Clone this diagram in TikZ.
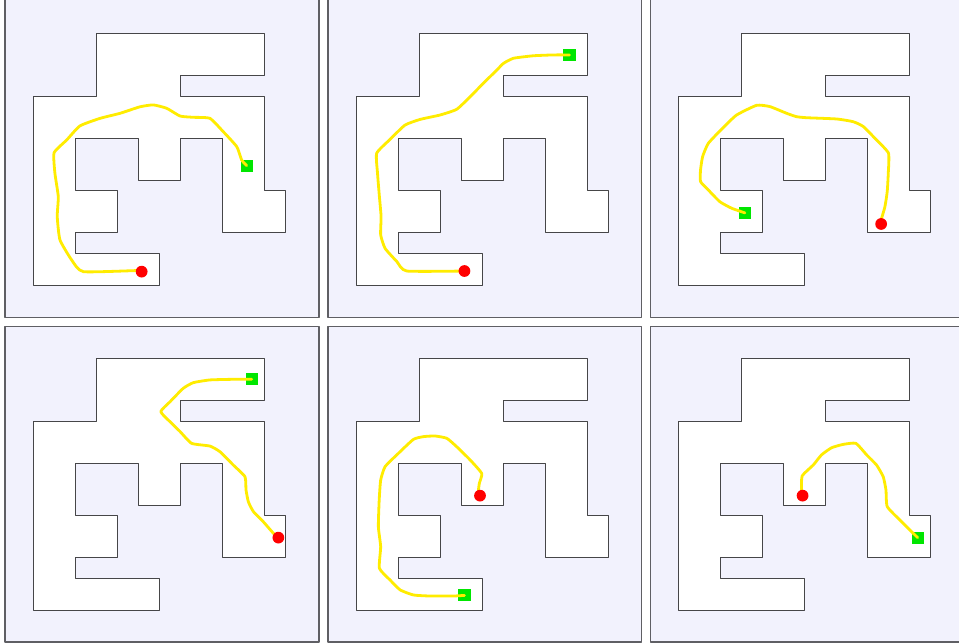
\documentclass[tikz,border=0pt]{standalone}
\definecolor{lavender}{RGB}{242,242,253}
\definecolor{framegray}{RGB}{95,95,100}
\definecolor{wallgray}{RGB}{70,70,72}
\definecolor{routeyellow}{RGB}{255,236,0}
\definecolor{goalgreen}{RGB}{0,230,0}
\tikzset{
	panel/.style={fill=lavender, draw=framegray, line width=1.6pt},
	wall/.style={fill=white, draw=wallgray, line width=1pt},
	route/.style={draw=routeyellow, line width=2.8pt},
	startdot/.style={fill=red},
	goalbox/.style={fill=goalgreen},
	cell/.style 2 args={shift={({33.3+322.8*#1},{33.3+325*#2})}, scale=21}
}
\begin{document}
\begin{tikzpicture}[x=1pt, y=-1pt, line cap=round, line join=round]
	\useasboundingbox (0,0) rectangle (959,644);
	% panels and the free space of the maze
	\foreach \top/\bot [count=\r from 0] in {-1/317.7, 326.7/641.7} {
		\foreach \c in {0,1,2} {
			\filldraw[panel] ({5+322.7*\c},\top) rectangle ({318.7+322.7*\c},\bot);
			\filldraw[wall, cell={\c}{\r}] (3,0) -- (11,0) -- (11,2) -- (7,2) -- (7,3) -- (11,3) -- (11,7.5) -- (12,7.5) -- (12,9.5) -- (9,9.5) -- (9,5) -- (7,5) -- (7,7) -- (5,7) -- (5,5) -- (2,5) -- (2,7.5) -- (4,7.5) -- (4,9.5) -- (2,9.5) -- (2,10.5) -- (6,10.5) -- (6,12) -- (0,12) -- (0,3) -- (3,3) -- cycle;
		}
	}
	% top row
	\begin{scope}[cell={0}{0}]
		\fill[goalbox] (10.16,6.30) ++(-0.29,-0.29) rectangle ++(0.58,0.58);
		\draw[route] plot[smooth, tension=0.3] coordinates {(5.16,11.35) (4.92,11.30) (2.38,11.35) (1.83,10.80) (1.27,9.84) (1.14,8.73) (1.19,7.78) (1.03,6.67) (0.99,5.69) (1.59,5.08) (2.22,4.41) (3.18,4.05) (4.13,3.81) (5.08,3.50) (5.71,3.41) (6.35,3.57) (6.99,3.94) (7.62,4.00) (8.41,4.05) (9.05,4.69) (9.69,5.40) (9.92,6.03) (10.16,6.30)};
		\fill[startdot] (5.16,11.35) circle (0.28);
	\end{scope}
	\begin{scope}[cell={1}{0}]
		\fill[goalbox] (10.16,1.03) ++(-0.29,-0.29) rectangle ++(0.58,0.58);
		\draw[route] plot[smooth, tension=0.3] coordinates {(5.16,11.32) (2.41,11.32) (1.94,10.87) (1.38,10.24) (1.17,9.60) (1.19,8.73) (1.11,7.78) (1.02,6.67) (0.98,5.71) (1.62,5.05) (2.33,4.37) (3.05,4.10) (4.0,3.89) (4.79,3.62) (5.43,3.02) (6.06,2.38) (6.70,1.75) (7.02,1.43) (7.49,1.19) (8.44,1.07) (9.40,1.03) (10.16,1.03)};
		\fill[startdot] (5.16,11.32) circle (0.28);
	\end{scope}
	\begin{scope}[cell={2}{0}]
		\fill[goalbox] (3.14,8.57) ++(-0.29,-0.29) rectangle ++(0.58,0.58);
		\draw[route] plot[smooth, tension=0.3] coordinates {(9.63,9.08) (9.63,8.89) (9.81,8.26) (9.92,7.54) (9.97,6.67) (9.98,5.71) (9.41,5.08) (8.78,4.44) (8.30,4.21) (7.51,4.08) (6.08,4.02) (5.60,3.97) (5.13,3.81) (4.33,3.49) (3.70,3.43) (2.75,3.89) (2.11,4.49) (1.40,5.24) (1.13,5.87) (1.03,6.51) (1.03,7.06) (1.40,7.46) (1.95,8.02) (2.51,8.33) (3.14,8.55)};
		\fill[startdot] (9.63,9.08) circle (0.28);
	\end{scope}
	% bottom row
	\begin{scope}[cell={0}{1}]
		\fill[goalbox] (10.40,1.00) ++(-0.29,-0.29) rectangle ++(0.58,0.58);
		\draw[route] plot[smooth, tension=0.3] coordinates {(11.67,8.54) (11.43,8.33) (10.95,7.78) (10.48,7.30) (10.24,6.83) (10.13,6.27) (10.08,5.64) (9.52,5.08) (8.89,4.45) (8.41,4.18) (7.54,4.05) (6.99,3.49) (6.51,3.02) (6.07,2.54) (6.51,2.07) (7.14,1.43) (7.62,1.16) (8.41,1.03) (9.52,1.00) (10.40,1.00)};
		\fill[startdot] (11.67,8.54) circle (0.28);
	\end{scope}
	\begin{scope}[cell={1}{1}]
		\fill[goalbox] (5.16,11.29) ++(-0.29,-0.29) rectangle ++(0.58,0.58);
		\draw[route] plot[smooth, tension=0.3] coordinates {(5.90,6.54) (5.83,6.27) (5.87,5.95) (5.98,5.48) (5.43,4.84) (4.79,4.21) (4.32,3.81) (3.76,3.70) (3.21,3.73) (2.73,3.86) (2.02,4.52) (1.38,5.16) (1.17,5.80) (1.10,6.75) (1.06,8.02) (1.17,8.97) (1.11,10.0) (1.62,10.56) (2.10,11.03) (2.73,11.27) (3.52,11.32) (4.63,11.32) (5.16,11.29)};
		\fill[startdot] (5.90,6.54) circle (0.28);
	\end{scope}
	\begin{scope}[cell={2}{1}]
		\fill[goalbox] (11.37,8.54) ++(-0.29,-0.29) rectangle ++(0.58,0.58);
		\draw[route] plot[smooth, tension=0.3] coordinates {(5.89,6.54) (5.84,6.27) (5.87,5.60) (6.40,5.08) (6.79,4.60) (7.27,4.26) (7.82,4.10) (8.43,4.05) (8.94,4.60) (9.41,5.08) (9.73,5.64) (9.86,6.27) (9.92,7.06) (10.52,7.70) (11.37,8.54)};
		\fill[startdot] (5.89,6.54) circle (0.28);
	\end{scope}
\end{tikzpicture}
\end{document}
